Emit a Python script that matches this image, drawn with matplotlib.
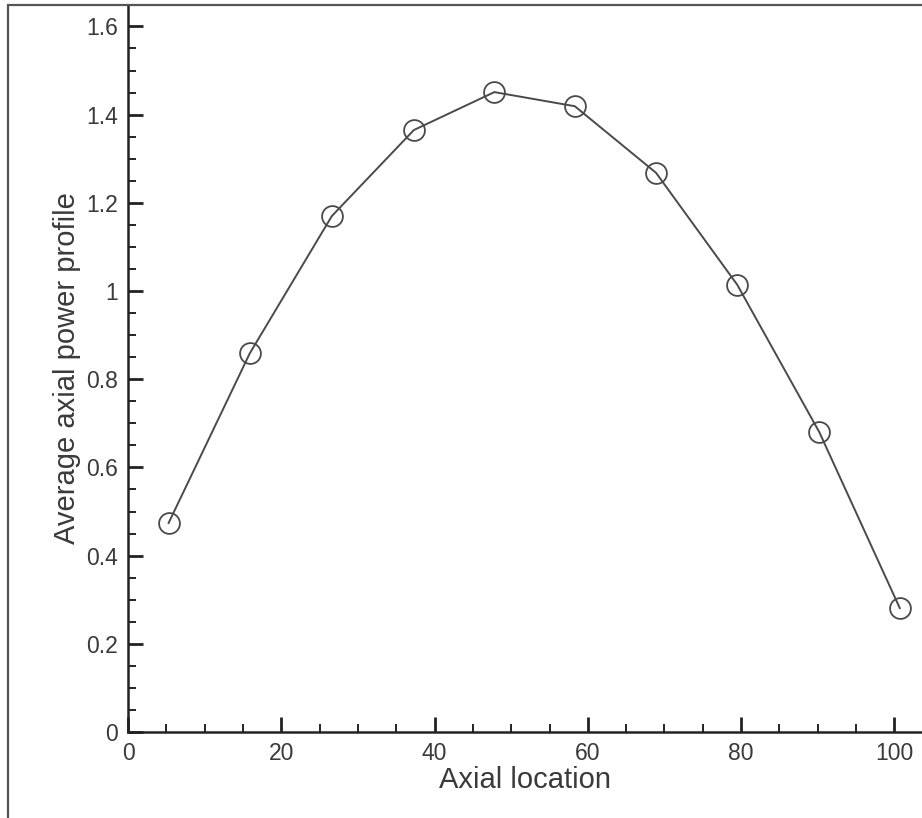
import matplotlib
matplotlib.use('Agg')
import matplotlib.pyplot as plt
from matplotlib.ticker import MultipleLocator, FormatStrFormatter
from matplotlib.patches import Rectangle

# axial power profile, 10 nodes along the core
axial_location = [5.3, 15.9, 26.6, 37.3, 47.8, 58.3, 68.9, 79.5, 90.2, 100.7]
avg_power = [0.474, 0.859, 1.170, 1.365, 1.451, 1.419, 1.268, 1.014, 0.680, 0.281]

plt.rcParams['font.family'] = ['Liberation Sans', 'DejaVu Sans']
text_color = '#3a3a3a'
line_color = '#4a4a4a'

W, H = 922, 818
fig = plt.figure(figsize=(W / 100, H / 100), dpi=100)

# outer frame of the figure (runs off the right and bottom edges)
fig.patches.append(Rectangle((8 / W, -0.1), 1.2, 1 - 5 / H + 0.1,
                             transform=fig.transFigure, fill=False,
                             edgecolor='#555555', linewidth=1.6))

x0, y0 = 128, 732
ax = fig.add_axes([x0 / W, (H - y0) / H, (W - x0) / W, (y0 - 5) / H])
ax.patch.set_alpha(0)

ax.plot(axial_location, avg_power, color=line_color, linewidth=1.4,
        marker='o', markersize=15, markerfacecolor='none',
        markeredgecolor=line_color, markeredgewidth=1.3)

ax.set_xlim(0, (W - x0) / 7.664)
ax.set_ylim(0, (y0 - 5) / 441.0)

ax.xaxis.set_major_locator(MultipleLocator(20))
ax.xaxis.set_minor_locator(MultipleLocator(5))
ax.yaxis.set_major_locator(MultipleLocator(0.2))
ax.yaxis.set_minor_locator(MultipleLocator(0.05))
ax.yaxis.set_major_formatter(FormatStrFormatter('%g'))

for side in ['top', 'right']:
    ax.spines[side].set_visible(False)
for side in ['left', 'bottom']:
    ax.spines[side].set_linewidth(1.8)
    ax.spines[side].set_color('#222222')

ax.tick_params(which='major', direction='in', length=11, width=2,
               color='#222222', labelsize=16.5, labelcolor=text_color, pad=7)
ax.tick_params(which='minor', direction='in', length=6, width=1.4,
               color='#222222')

ax.set_xlabel('Axial location', fontsize=21, color=text_color, labelpad=1)
ax.set_ylabel('Average axial power profile', fontsize=21, color=text_color,
              labelpad=4)

fig.savefig('out.png', dpi=100)
